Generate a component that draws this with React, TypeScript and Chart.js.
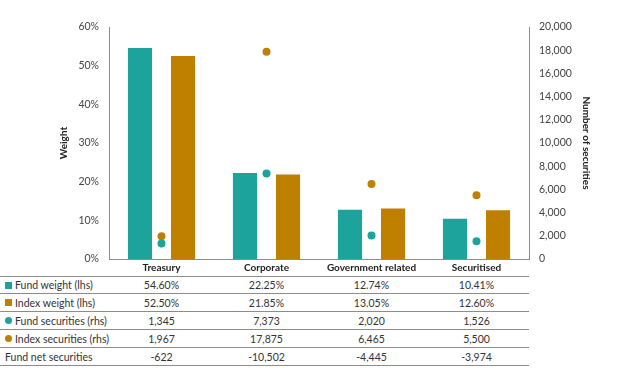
import React, { useEffect, useRef } from "react";
import { Chart, registerables } from "chart.js";

Chart.register(...registerables);

const categories = ["Treasury", "Corporate", "Government related", "Securitised"];
const fundWeight = [54.6, 22.25, 12.74, 10.41];
const indexWeight = [52.5, 21.85, 13.05, 12.6];
const fundSecurities = [1345, 7373, 2020, 1526];
const indexSecurities = [1967, 17875, 6465, 5500];
const fundNetSecurities = [-622, -10502, -4445, -3974];

const TEAL = "#1ba39c";
const GOLD = "#bf8000";
const AXIS = "#8c8c8c";
const FONT = "Lato, 'Noto Sans', sans-serif";

const pct = (v: number) => v.toFixed(2) + "%";
const num = (v: number) => v.toLocaleString("en-US");

type Row = { label: string; marker: "square" | "circle" | null; color: string; values: string[] };

const rows: Row[] = [
  { label: "Fund weight (lhs)", marker: "square", color: TEAL, values: fundWeight.map(pct) },
  { label: "Index weight (lhs)", marker: "square", color: GOLD, values: indexWeight.map(pct) },
  { label: "Fund securities (rhs)", marker: "circle", color: TEAL, values: fundSecurities.map(num) },
  { label: "Index securities (rhs)", marker: "circle", color: GOLD, values: indexSecurities.map(num) },
  { label: "Fund net securities", marker: null, color: "", values: fundNetSecurities.map(num) },
];

const CHART_W = 627;
const CHART_H = 276;
const PLOT_LEFT = 109;
const PLOT_RIGHT = 529;
const ROW_LINES = [276, 293, 311, 329, 347, 365];

export default function App() {
  const ref = useRef<HTMLCanvasElement | null>(null);

  useEffect(() => {
    if (!ref.current) return;
    const chart = new Chart(ref.current, {
      type: "bar",
      data: {
        labels: categories,
        datasets: [
          {
            type: "line",
            label: "Fund securities (rhs)",
            data: fundSecurities,
            yAxisID: "y1",
            showLine: false,
            pointRadius: 4,
            pointBackgroundColor: TEAL,
            pointBorderColor: TEAL,
            pointBorderWidth: 0,
            order: 0,
          } as any,
          {
            type: "line",
            label: "Index securities (rhs)",
            data: indexSecurities,
            yAxisID: "y1",
            showLine: false,
            pointRadius: 4,
            pointBackgroundColor: GOLD,
            pointBorderColor: GOLD,
            pointBorderWidth: 0,
            order: 0,
          } as any,
          {
            type: "bar",
            label: "Fund weight (lhs)",
            data: fundWeight,
            yAxisID: "y",
            backgroundColor: TEAL,
            categoryPercentage: 0.82,
            barPercentage: 0.56,
            order: 1,
          },
          {
            type: "bar",
            label: "Index weight (lhs)",
            data: indexWeight,
            yAxisID: "y",
            backgroundColor: GOLD,
            categoryPercentage: 0.82,
            barPercentage: 0.56,
            order: 1,
          },
        ],
      },
      options: {
        responsive: false,
        animation: false,
        devicePixelRatio: 1,
        layout: { padding: { left: 54, right: 31, top: 27, bottom: 0 } },
        plugins: { legend: { display: false }, tooltip: { enabled: false } },
        scales: {
          x: {
            grid: { display: false, drawTicks: false },
            border: { display: true, color: AXIS, width: 1 },
            ticks: { padding: 3, color: "#222", font: { family: FONT, size: 10, weight: "bold" } },
            afterFit: (s: any) => {
              s.height = 17;
            },
          },
          y: {
            position: "left",
            min: 0,
            max: 60,
            grid: { display: false, drawTicks: false },
            border: { display: true, color: AXIS, width: 1 },
            ticks: {
              stepSize: 10,
              padding: 10,
              color: "#444",
              font: { family: FONT, size: 10.5 },
              callback: (v: any) => v + "%",
            },
            title: {
              display: true,
              text: "Weight",
              color: "#222",
              font: { family: FONT, size: 10, weight: "bold" },
              padding: { top: 4, bottom: 4 },
            },
            afterFit: (s: any) => {
              s.width = 55;
            },
          },
          y1: {
            position: "right",
            min: 0,
            max: 20000,
            grid: { display: false, drawTicks: false },
            border: { display: true, color: AXIS, width: 1 },
            ticks: {
              stepSize: 2000,
              padding: 10,
              color: "#444",
              font: { family: FONT, size: 10.5 },
              callback: (v: any) => Number(v).toLocaleString("en-US"),
            },
            title: {
              display: true,
              text: "Number of securities",
              color: "#222",
              font: { family: FONT, size: 10, weight: "bold" },
              padding: { top: 4, bottom: 4 },
            },
            afterFit: (s: any) => {
              s.width = 67;
            },
          },
        },
      } as any,
    });
    return () => chart.destroy();
  }, []);

  const colW = (PLOT_RIGHT - PLOT_LEFT) / categories.length;

  return (
    <div
      style={{
        position: "absolute",
        left: 0,
        top: 0,
        width: CHART_W,
        height: 386,
        background: "#fff",
        fontFamily: FONT,
        overflow: "hidden",
      }}
    >
      <canvas ref={ref} width={CHART_W} height={CHART_H} style={{ display: "block", width: CHART_W, height: CHART_H }} />
      {ROW_LINES.map((y, i) => (
        <div
          key={"l" + i}
          style={{ position: "absolute", left: 0, top: y, width: PLOT_RIGHT, height: 1, background: AXIS }}
        />
      ))}
      {rows.map((r, i) => {
        const top = ROW_LINES[i] + 1;
        const h = ROW_LINES[i + 1] - ROW_LINES[i] - 1;
        return (
          <div key={"r" + i} style={{ position: "absolute", left: 0, top, width: PLOT_RIGHT, height: h }}>
            <div
              style={{
                position: "absolute",
                left: 5,
                top: 0,
                height: h,
                display: "flex",
                alignItems: "center",
                fontSize: 10.5,
                color: "#333",
                whiteSpace: "nowrap",
              }}
            >
              {r.marker && (
                <span
                  style={{
                    display: "inline-block",
                    width: 7,
                    height: 7,
                    background: r.color,
                    borderRadius: r.marker === "circle" ? "50%" : 0,
                    marginRight: 3,
                  }}
                />
              )}
              <span>{r.label}</span>
            </div>
            {r.values.map((v, j) => (
              <div
                key={j}
                style={{
                  position: "absolute",
                  left: PLOT_LEFT + j * colW,
                  width: colW,
                  top: 0,
                  height: h,
                  display: "flex",
                  alignItems: "center",
                  justifyContent: "center",
                  fontSize: 10.5,
                  color: "#333",
                  whiteSpace: "nowrap",
                }}
              >
                {v}
              </div>
            ))}
          </div>
        );
      })}
    </div>
  );
}
